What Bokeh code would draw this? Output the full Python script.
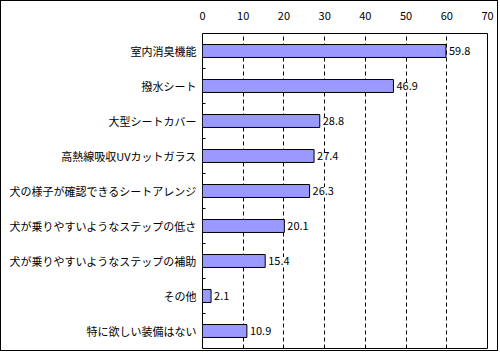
from bokeh.plotting import figure
from bokeh.models import FixedTicker, ColumnDataSource, Range1d, LabelSet
from bokeh.core.properties import value
from bokeh.embed import file_html
from bokeh.resources import INLINE

categories = ["室内消臭機能", "撥水シート", "大型シートカバー", "高熱線吸収UVカットガラス",
              "犬の様子が確認できるシートアレンジ", "犬が乗りやすいようなステップの低さ",
              "犬が乗りやすいようなステップの補助", "その他", "特に欲しい装備はない"]
values = [59.8, 46.9, 28.8, 27.4, 26.3, 20.1, 15.4, 2.1, 10.9]
x_ticks = [0, 10, 20, 30, 40, 50, 60, 70]

n = len(categories)
ypos = [n - 0.5 - i for i in range(n)]
labels = [f"{v:.1f}" for v in values]
src = ColumnDataSource(dict(y=ypos, v=values, lab=labels))

FONT = "Noto Sans CJK JP"

p = figure(width=498, height=351, output_backend="svg", toolbar_location=None,
           x_range=Range1d(0, 70), y_range=Range1d(0, n),
           x_axis_location="above", min_border_left=201, min_border_right=12,
           min_border_top=32, min_border_bottom=4)
p.styles = {"border": "1px solid black"}

p.hbar(y="y", left=0, right="v", height=0.37, source=src,
       fill_color="#9999FF", line_color="black", line_width=1)
ls = LabelSet(x="v", y="y", text="lab", source=src, x_offset=3,
              text_baseline="middle", text_align="left", text_font=value(FONT),
              text_font_size="11px", text_color="black",
              background_fill_color="white")
p.add_layout(ls)

p.outline_line_color = "black"
p.outline_line_width = 1

xa = p.xaxis[0]
xa.ticker = FixedTicker(ticks=x_ticks)
xa.axis_line_color = None
xa.major_tick_line_color = None
xa.minor_tick_line_color = None
xa.major_label_text_font = FONT
xa.major_label_text_font_size = "11px"
xa.major_label_text_color = "black"
xa.major_label_standoff = 8

ya = p.yaxis[0]
ya.ticker = FixedTicker(ticks=ypos, minor_ticks=list(range(1, n)))
ya.major_label_overrides = {y: c for y, c in zip(ypos, categories)}
ya.axis_line_color = None
ya.major_tick_in = 0
ya.major_tick_out = 0
ya.minor_tick_in = 3
ya.minor_tick_out = 0
ya.minor_tick_line_color = "black"
ya.major_label_text_font = FONT
ya.major_label_text_font_size = "11px"
ya.major_label_text_color = "black"
ya.major_label_standoff = 6

p.xgrid.ticker = FixedTicker(ticks=x_ticks[1:-1])
p.xgrid.grid_line_color = "black"
p.xgrid.grid_line_dash = "4 3"
p.ygrid.grid_line_color = None

open("out.html", "w").write(file_html(p, INLINE))
